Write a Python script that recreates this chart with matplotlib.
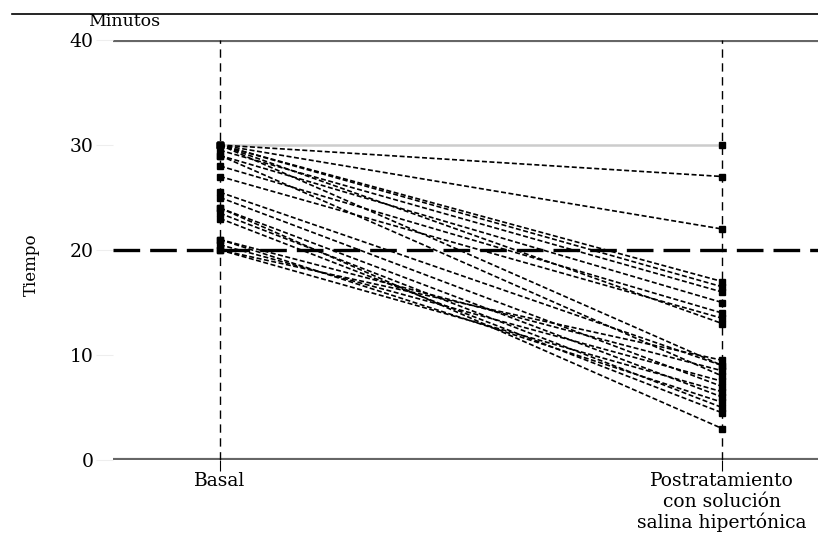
import matplotlib.pyplot as plt
from matplotlib.lines import Line2D

# data: paired times (minutes) per patient
basal = [30, 30, 30, 30, 30, 29.5, 29, 30, 28, 27, 30, 29, 25.5, 25, 24,
         23.5, 23, 21, 20.5, 20, 20, 24, 21]
post = [30, 27, 22, 17, 16.5, 16, 15, 13, 14, 13.5, 9, 8, 9, 7, 6,
        5, 4.5, 8.5, 7.5, 6.5, 9.5, 3, 5.5]
groups = ['Basal', 'Postratamiento\ncon solución\nsalina hipertónica']
yticks = [0, 10, 20, 30, 40]

plt.rcParams['font.family'] = ['DejaVu Serif']

fig = plt.figure(figsize=(8.18, 5.40), dpi=100)
ax = fig.add_axes([113 / 818, 80 / 540, 705 / 818, 420 / 540])

x0, x1 = 0, 1
for b, p in zip(basal, post):
    if b == p:
        ax.plot([x0, x1], [b, p], color='#cccccc', lw=1.8, zorder=2)
    else:
        ax.plot([x0, x1], [b, p], color='black', lw=1.2,
                linestyle=(0, (3, 1.5)), zorder=3)
    ax.plot([x0, x1], [b, p], 's', color='black', ms=4.5, zorder=4)

# reference lines
ax.axhline(40, color='#666666', lw=3, zorder=1)
ax.axhline(0, color='#666666', lw=3, zorder=1)
ax.axhline(20, color='black', lw=2.4, linestyle=(0, (8, 3)), zorder=5)
for xv in (x0, x1):
    ax.axvline(xv, color='black', lw=1, linestyle=(0, (6, 4)), zorder=1)

ax.set_xlim(-0.213, 1.191)
ax.set_ylim(0, 40)
ax.set_yticks(yticks)
ax.set_yticklabels([str(v) for v in yticks], fontsize=13.5)
ax.tick_params(axis='y', length=12, color='#eeeeee', pad=2)
ax.set_xticks([x0, x1])
ax.set_xticklabels(groups, fontsize=13.5, linespacing=1.15)
ax.tick_params(axis='x', length=8, direction='out', color='black', pad=1)
for sp in ax.spines.values():
    sp.set_visible(False)

ax.set_ylabel('Tiempo', fontsize=12)
ax.yaxis.set_label_coords((40 - 113) / 705, 0.464)
fig.text(88 / 818, 1 - 22 / 540, 'Minutos', fontsize=12.5, va='center', ha='left')
fig.add_artist(Line2D([12 / 818, 1], [1 - 14 / 540, 1 - 14 / 540],
                      color='black', lw=1.2))

fig.savefig('out.png', dpi=100)
